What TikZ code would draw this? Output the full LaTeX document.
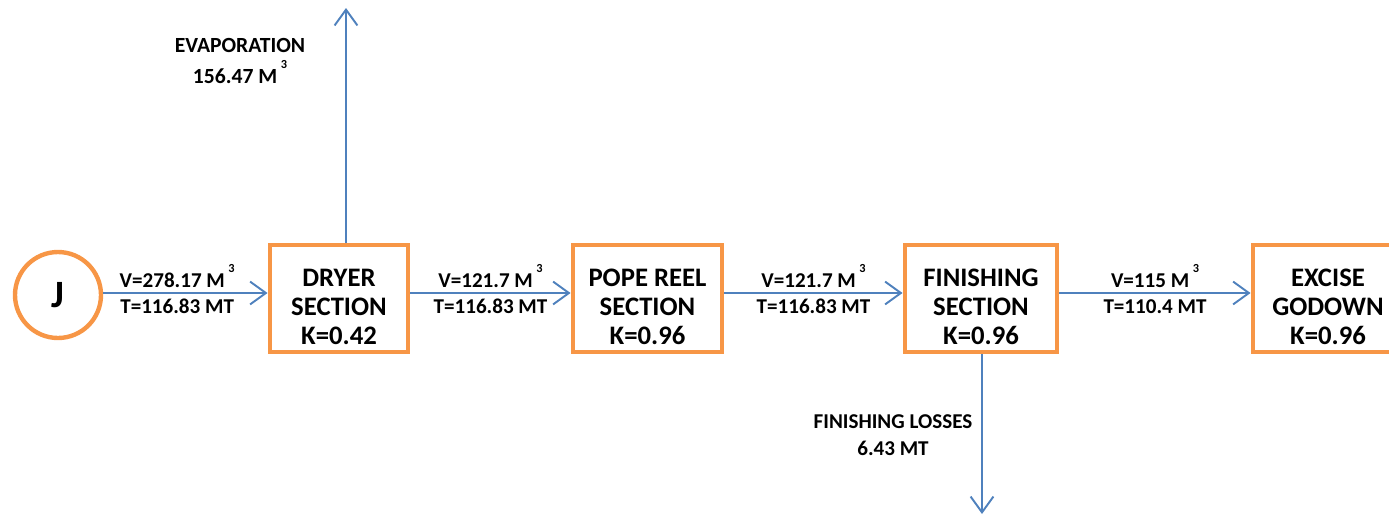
\documentclass[tikz,border=0pt]{standalone}
\usepackage{fontspec}
\setmainfont{Carlito}
\usetikzlibrary{arrows.meta,positioning,calc}
\definecolor{flowblue}{HTML}{4F81BD}
\definecolor{unitorange}{HTML}{F79646}
\newcommand{\cube}{\,\raisebox{1.45ex}{\fontsize{7}{7}\selectfont 3}}
\newcommand{\lift}{\rule{0pt}{19pt}}

\begin{document}
\begin{tikzpicture}[>={Straight Barb[length=9pt,width=13pt]},font=\bfseries\fontsize{12}{15}\selectfont]
\tikzstyle{unit}=[draw=unitorange,line width=2.8pt,align=center,minimum height=2.14cm,font=\bfseries\fontsize{15.2}{16.5}\selectfont]
\tikzstyle{flow}=[draw=flowblue,line width=1.1pt,->]
\tikzstyle{vlab}=[above,inner sep=2.5pt]
\tikzstyle{tlab}=[below,inner sep=3pt]
\useasboundingbox (0,0) rectangle (27.78,10.32);
\node[draw=unitorange,line width=2.5pt,circle,minimum size=1.72cm,font=\bfseries\fontsize{22}{22}\selectfont] (j) at (1.16,4.42) {J};
\node[unit,minimum width=2.76cm] (dryer) at (6.78,4.35) {\lift DRYER\\SECTION\\K=0.42};
\node[unit,minimum width=2.98cm] (pope) at (12.95,4.35) {\lift POPE REEL\\SECTION\\K=0.96};
\node[unit,minimum width=3.04cm] (finish) at (19.62,4.35) {\lift FINISHING\\SECTION\\K=0.96};
\node[unit,minimum width=3.0cm] (excise) at (26.56,4.35) {\lift EXCISE\\GODOWN\\K=0.96};
\coordinate (evap) at (6.92,10.16);
\coordinate (loss) at (19.64,0.04);
\draw[flow] (j.east |- 0,4.46) -- node[vlab,pos=0.45]{V=278.17 M\cube} node[tlab,pos=0.45]{T=116.83 MT} (dryer.west |- 0,4.46);
\draw[flow] (dryer.east |- 0,4.46) -- node[vlab]{V=121.7 M\cube} node[tlab]{T=116.83 MT} (pope.west |- 0,4.46);
\draw[flow] (pope.east |- 0,4.46) -- node[vlab]{V=121.7 M\cube} node[tlab]{T=116.83 MT} (finish.west |- 0,4.46);
\draw[flow] (finish.east |- 0,4.46) -- node[vlab]{V=115 M\cube} node[tlab]{T=110.4 MT} (excise.west |- 0,4.46);
\draw[flow] (evap |- dryer.north) -- (evap);
\draw[flow] (finish.south -| loss) -- (loss);
\node[align=center,font=\bfseries\fontsize{12.3}{18}\selectfont] (evaplab) at (4.8,9.1) {EVAPORATION\\156.47 M\cube};
\node[align=center] (losslab) at (17.86,1.62) {FINISHING LOSSES\\6.43 MT};
\end{tikzpicture}
\end{document}
